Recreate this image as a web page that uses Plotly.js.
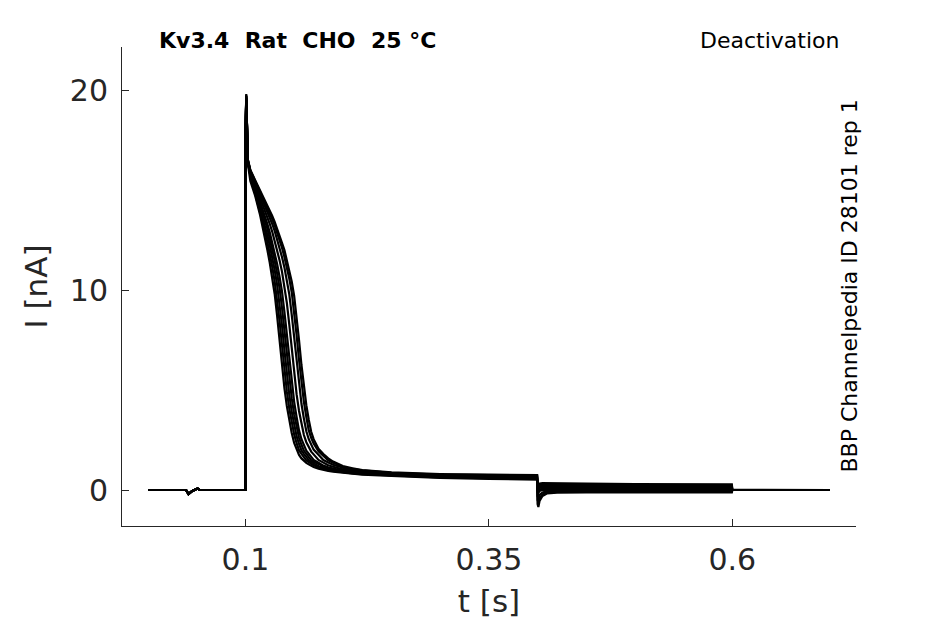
<!DOCTYPE html>
<html>
<head>
<meta charset="utf-8">
<script src="https://cdn.plot.ly/plotly-3.0.1.min.js"></script>
<style>
html, body { margin: 0; padding: 0; background: #fff; }
#plot { width: 945px; height: 624px; }
</style>
</head>
<body>
<div id="plot"></div>
<script>
// holding level before the step (s, nA), same for every sweep
var tPre = [0, 0.039, 0.0415, 0.045, 0.0508, 0.053, 0.0999];
var iPre = [0, 0, -0.2, -0.06, 0.07, 0, 0];

// activating step, 0.1 .. 0.4 s
var tPulse = [0.1, 0.1008, 0.1025, 0.105, 0.11, 0.115, 0.1175, 0.12, 0.1225, 0.125,
    0.1275, 0.13, 0.1325, 0.135, 0.1375, 0.14, 0.1425, 0.145, 0.1475, 0.15,
    0.1525, 0.155, 0.1575, 0.16, 0.1625, 0.165, 0.1675, 0.17, 0.175, 0.18,
    0.185, 0.19, 0.2, 0.21, 0.22, 0.25, 0.3, 0.35, 0.3995];

var pulse1 = [17.5, 19.8, 16.3, 15.45, 14.7, 13.75, 13.2, 12.6, 12.0, 11.35, 10.65, 9.8, 8.7, 7.5, 6.2, 5.1, 4.2, 3.5, 2.85, 2.35, 2.0, 1.75, 1.58, 1.45, 1.36, 1.28, 1.21, 1.15, 1.07, 1.0, 0.96, 0.92, 0.86, 0.81, 0.77, 0.7, 0.61, 0.56, 0.52];
var pulse2 = [17.5, 19.7, 16.35, 15.72, 14.79, 13.96, 13.46, 12.96, 12.39, 11.81, 11.16, 10.42, 9.54, 8.45, 7.25, 6.0, 4.93, 4.07, 3.38, 2.78, 2.34, 1.99, 1.81, 1.63, 1.48, 1.40, 1.32, 1.24, 1.14, 1.06, 0.99, 0.95, 0.88, 0.83, 0.79, 0.72, 0.63, 0.59, 0.55];
var pulse3 = [17.5, 19.75, 16.35, 15.78, 14.91, 14.15, 13.71, 13.24, 12.74, 12.21, 11.63, 11.0, 10.26, 9.33, 8.23, 7.0, 5.78, 4.76, 3.92, 3.24, 2.69, 2.30, 1.98, 1.81, 1.64, 1.49, 1.41, 1.33, 1.19, 1.12, 1.04, 0.99, 0.91, 0.86, 0.82, 0.74, 0.65, 0.61, 0.57];
var pulse4 = [17.5, 19.6, 16.4, 15.82, 15.02, 14.30, 13.93, 13.49, 13.05, 12.56, 12.05, 11.46, 10.83, 10.10, 9.12, 8.0, 6.75, 5.57, 4.59, 3.78, 3.11, 2.61, 2.26, 1.97, 1.81, 1.65, 1.49, 1.42, 1.28, 1.17, 1.09, 1.02, 0.94, 0.89, 0.85, 0.76, 0.67, 0.63, 0.6];
var pulse5 = [17.5, 19.7, 16.4, 15.86, 15.12, 14.43, 14.10, 13.71, 13.30, 12.87, 12.38, 11.88, 11.30, 10.66, 9.93, 8.91, 7.75, 6.5, 5.35, 4.41, 3.65, 2.98, 2.54, 2.22, 1.96, 1.81, 1.66, 1.50, 1.36, 1.22, 1.14, 1.07, 0.97, 0.92, 0.87, 0.78, 0.69, 0.65, 0.62];
var pulse6 = [17.5, 19.65, 16.45, 15.91, 15.27, 14.64, 14.34, 14.03, 13.67, 13.30, 12.91, 12.47, 12.03, 11.49, 10.92, 10.24, 9.36, 8.27, 7.05, 5.83, 4.79, 3.95, 3.27, 2.75, 2.39, 2.11, 1.92, 1.78, 1.50, 1.37, 1.24, 1.16, 1.03, 0.96, 0.91, 0.8, 0.72, 0.68, 0.65];
var pulse7 = [17.5, 19.55, 16.5, 15.96, 15.38, 14.81, 14.53, 14.26, 13.97, 13.63, 13.30, 12.95, 12.54, 12.13, 11.65, 11.13, 10.51, 9.78, 8.77, 7.6, 6.35, 5.22, 4.31, 3.57, 2.94, 2.54, 2.27, 2.02, 1.76, 1.50, 1.38, 1.26, 1.11, 0.99, 0.94, 0.83, 0.75, 0.71, 0.69];
var pulse8 = [17.5, 19.6, 16.5, 15.98, 15.45, 14.93, 14.67, 14.40, 14.14, 13.86, 13.54, 13.23, 12.89, 12.50, 12.12, 11.65, 11.16, 10.57, 9.89, 8.91, 7.75, 6.5, 5.35, 4.41, 3.65, 2.98, 2.61, 2.33, 1.93, 1.69, 1.48, 1.36, 1.16, 1.05, 0.98, 0.86, 0.77, 0.74, 0.72];
var pulse9 = [17.5, 19.5, 16.5, 16.0, 15.5, 15.0, 14.75, 14.5, 14.25, 14.0, 13.7, 13.4, 13.08, 12.75, 12.36, 12.0, 11.52, 11.04, 10.43, 9.7, 8.7, 7.5, 6.25, 5.13, 4.24, 3.51, 2.91, 2.54, 2.06, 1.8, 1.58, 1.42, 1.2, 1.09, 0.99, 0.88, 0.8, 0.77, 0.75];

// deactivating step, 0.4 .. 0.6 s
var tTail = [0.4, 0.4008, 0.402, 0.405, 0.41, 0.42, 0.45, 0.5, 0.55, 0.5995];
var tail1 = [0.3, 0.3, 0.32, 0.34, 0.34, 0.33, 0.32, 0.3, 0.29, 0.28];
var tail2 = [0.22, 0.22, 0.25, 0.27, 0.27, 0.26, 0.25, 0.24, 0.23, 0.22];
var tail3 = [0.15, 0.15, 0.18, 0.2, 0.2, 0.19, 0.18, 0.17, 0.16, 0.16];
var tail4 = [0.08, 0.08, 0.11, 0.13, 0.13, 0.12, 0.12, 0.11, 0.1, 0.1];
var tail5 = [0.0, 0.0, 0.04, 0.06, 0.07, 0.07, 0.06, 0.05, 0.05, 0.05];
var tail6 = [-0.1, -0.15, -0.05, 0.0, 0.01, 0.01, 0.01, 0.0, 0.0, 0.0];
var tail7 = [-0.3, -0.4, -0.25, -0.12, -0.06, -0.04, -0.04, -0.05, -0.05, -0.05];
var tail8 = [-0.5, -0.6, -0.4, -0.22, -0.12, -0.09, -0.08, -0.08, -0.08, -0.08];
var tail9 = [-0.7, -0.85, -0.55, -0.3, -0.17, -0.13, -0.12, -0.12, -0.12, -0.12];

// back to holding
var tPost = [0.6, 0.7];
var iPost = [0, 0];

var pulses = [pulse1, pulse2, pulse3, pulse4, pulse5, pulse6, pulse7, pulse8, pulse9];
var tails = [tail1, tail2, tail3, tail4, tail5, tail6, tail7, tail8, tail9];

var xTicks = [0.1, 0.35, 0.6];
var xTickText = ['0.1', '0.35', '0.6'];
var yTicks = [0, 10, 20];
var yTickText = ['0', '10', '20'];

var data = [];
for (var k = 0; k < pulses.length; k++) {
    data.push({
        x: tPre.concat(tPulse, tTail, tPost),
        y: iPre.concat(pulses[k], tails[k], iPost),
        mode: 'lines',
        type: 'scatter',
        line: { color: '#000000', width: 2.2 },
        hoverinfo: 'skip'
    });
}

var font = 'DejaVu Sans, Verdana, sans-serif';
var grey = '#262626';
var nb = '\u00a0';

var layout = {
    width: 945,
    height: 624,
    margin: { l: 122, r: 89, t: 47, b: 98 },
    paper_bgcolor: '#ffffff',
    plot_bgcolor: '#ffffff',
    showlegend: false,
    font: { family: font, color: grey },
    xaxis: {
        range: [-0.0268, 0.727],
        tickmode: 'array',
        tickvals: xTicks,
        ticktext: xTickText,
        ticks: 'inside',
        ticklen: 7,
        tickcolor: grey,
        tickfont: { family: font, size: 30, color: grey },
        ticklabelstandoff: 7,
        showline: true,
        linecolor: grey,
        linewidth: 1,
        showgrid: false,
        zeroline: false,
        title: { text: 't [s]', font: { family: font, size: 31, color: grey }, standoff: 14 }
    },
    yaxis: {
        range: [-1.8, 22.15],
        tickmode: 'array',
        tickvals: yTicks,
        ticktext: yTickText,
        ticks: 'inside',
        ticklen: 7,
        tickcolor: grey,
        tickfont: { family: font, size: 30, color: grey },
        ticklabelstandoff: 7,
        showline: true,
        linecolor: grey,
        linewidth: 1,
        showgrid: false,
        zeroline: false,
        title: { text: 'I [nA]', font: { family: font, size: 31, color: grey }, standoff: 12 }
    },
    annotations: [
        {
            text: '<b>Kv3.4' + nb + nb + 'Rat' + nb + nb + 'CHO' + nb + nb + '25 °C</b>',
            xref: 'paper', yref: 'paper', x: 0.2391, y: 1.0146,
            xanchor: 'center', yanchor: 'middle', showarrow: false,
            font: { family: font, size: 22, color: '#000000' }
        },
        {
            text: 'Deactivation',
            xref: 'paper', yref: 'paper', x: 0.8822, y: 1.0146,
            xanchor: 'center', yanchor: 'middle', showarrow: false,
            font: { family: font, size: 22, color: '#000000' }
        },
        {
            text: 'BBP Channelpedia ID 28101 rep 1',
            xref: 'paper', yref: 'paper', x: 0.9905, y: 0.5,
            xanchor: 'center', yanchor: 'middle', showarrow: false, textangle: -90,
            font: { family: font, size: 22, color: '#000000' }
        }
    ]
};

Plotly.newPlot('plot', data, layout, { displayModeBar: false, staticPlot: true });
</script>
</body>
</html>
